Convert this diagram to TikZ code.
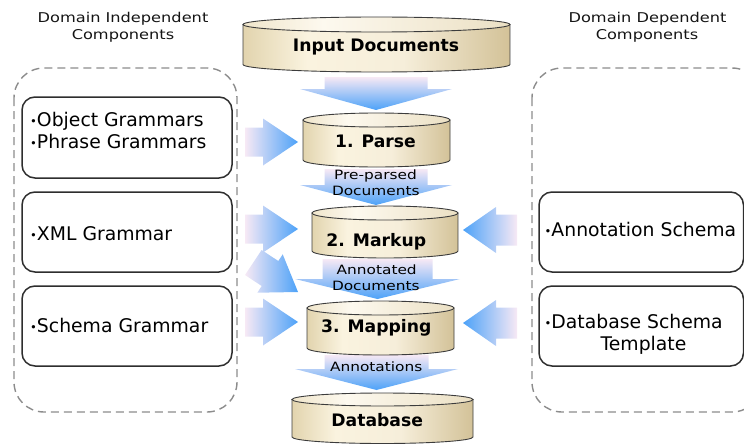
\documentclass[tikz,border=0pt]{standalone}
\usepackage{fontspec}
\setmainfont{DejaVu Sans}
\newfontfamily\lblfont[FakeStretch=1.2]{DejaVu Sans}
\usetikzlibrary{calc}

\definecolor{cylL}{HTML}{E2D4AE}
\definecolor{cylM}{HTML}{FAF3DF}
\definecolor{cylN}{HTML}{F6EEDA}
\definecolor{cylR}{HTML}{D3C298}
\definecolor{topL}{HTML}{F0E6CC}
\definecolor{topM}{HTML}{FDF9EF}
\definecolor{topR}{HTML}{EBE0C4}
\definecolor{cylline}{HTML}{3C3C3C}
\definecolor{arrB}{HTML}{4DA2F8}
\definecolor{arrP}{HTML}{F7E9F5}
\definecolor{dashg}{HTML}{8C8C8C}
\definecolor{boxline}{HTML}{2E2E2E}
\definecolor{titleg}{HTML}{141414}

\pgfdeclarehorizontalshading{cylshade}{100bp}{color(0bp)=(cylL); color(25bp)=(cylL); color(37bp)=(cylM); color(55bp)=(cylN); color(75bp)=(cylR); color(100bp)=(cylR)}
\pgfdeclarehorizontalshading{topshade}{100bp}{color(0bp)=(topL); color(25bp)=(topL); color(40bp)=(topM); color(75bp)=(topR); color(100bp)=(topR)}

\newcommand\bul{{\fontsize{11.5}{11}\selectfont\raisebox{0.6pt}{•}}}

% cylinder: L R T B ry name
\newcommand\cyl[6]{%
  \pgfmathsetmacro\cyX{(#1+#2)/2}%
  \pgfmathsetmacro\cyR{(#2-#1)/2}%
  \pgfmathsetmacro\cyT{#3+#5}%
  \pgfmathsetmacro\cyB{#4-#5}%
  \path[cylbody] (#1,\cyT) -- (#1,\cyB) arc[start angle=180,end angle=360,x radius=\cyR*1pt,y radius=#5*1pt] -- (#2,\cyT) -- cycle;
  \path[cyltop] (\cyX,\cyT) ellipse[x radius=\cyR*1pt, y radius=#5*1pt];
  \node[inner sep=0pt, minimum width={(#2-#1)*1pt}, minimum height={(#4-#3)*1pt}] (#6) at (\cyX,{(#3+#4)/2}) {};
}
% vertical block arrow: cx top headstart tip shafthalf headhalf
\newcommand\varrow[6]{\path[varr] ({#1-#5},#2) -- ({#1+#5},#2) -- ({#1+#5},#3) -- ({#1+#6},#3) -- (#1,#4) -- ({#1-#6},#3) -- ({#1-#5},#3) -- cycle;}
% right pointing arrow at y
\newcommand\rarrow[1]{\path[rarr] (245,{#1-14.5}) -- (263,{#1-14.5}) -- (263,{#1-23.5}) -- (298,#1) -- (263,{#1+23.5}) -- (263,{#1+14.5}) -- (245,{#1+14.5}) -- cycle;}
% left pointing arrow at y
\newcommand\larrow[1]{\path[larr] (517,{#1-15.5}) -- (496,{#1-15.5}) -- (496,{#1-23}) -- (463,#1) -- (496,{#1+23}) -- (496,{#1+15.5}) -- (517,{#1+15.5}) -- cycle;}

\begin{document}
\begin{tikzpicture}[x=1pt,y=-1pt,
  dashbox/.style={draw=dashg, line width=1.4pt, dash pattern=on 8pt off 5pt, rounded corners=30pt},
  gbox/.style={draw=boxline, line width=1.5pt, rounded corners=13pt, inner sep=0pt, fill=white},
  boxtext/.style={anchor=base west, inner sep=0pt, font=\fontsize{18.8}{22}\selectfont, text=black},
  title/.style={anchor=base, inner sep=0pt, font=\lblfont\fontsize{13.5}{16}\selectfont, text=titleg},
  lbl/.style={anchor=base, inner sep=0pt, font=\lblfont\fontsize{12.8}{15}\selectfont, text=black},
  cyltxt/.style={anchor=base, inner sep=0pt, font=\bfseries\fontsize{17.2}{20}\selectfont, text=black},
  varr/.style={top color=arrP, bottom color=arrB},
  rarr/.style={left color=arrP, right color=arrB},
  larr/.style={left color=arrB, right color=arrP},
  cylbody/.style={draw=cylline, line width=0.9pt, shade, shading=cylshade},
  cyltop/.style={draw=cylline, line width=0.9pt, shade, shading=topshade},
]
\useasboundingbox (0,0) rectangle (744,444);
\clip (0,0) rectangle (744,444);

% titles
\node[title] (tl1) at (123,22.3) {Domain Independent};
\node[title] (tl2) at (123,39.3) {Components};
\node[title] (tr1) at (647.5,22.3) {Domain Dependent};
\node[title] (tr2) at (647,39.3) {Components};

% dashed groups
\draw[dashbox] (14,68) rectangle (237,412);
\draw[dashbox] (532,68) rectangle (762,412);

% component boxes
\node[gbox, minimum width=210pt, minimum height=81pt] (og) at (127,137.5) {};
\node[gbox, minimum width=210pt, minimum height=80pt] (xg) at (127,232) {};
\node[gbox, minimum width=210pt, minimum height=80pt] (sg) at (127,326) {};
\node[gbox, minimum width=204.5pt, minimum height=80pt] (as) at (641.25,232) {};
\node[gbox, minimum width=204.5pt, minimum height=80pt] (ds) at (641.25,326) {};

\node[boxtext] (t1a) at (30,126) {\bul Object Grammars};
\node[boxtext] (t1b) at (30,148) {\bul Phrase Grammars};
\node[boxtext] (t2) at (30,240) {\bul XML Grammar};
\node[boxtext] (t3) at (30,332) {\bul Schema Grammar};
\node[boxtext] (t4) at (544.5,236) {\bul Annotation Schema};
\node[boxtext] (t5) at (544.5,328.5) {\bul Database Schema};
\node[boxtext, anchor=base] (t6) at (643.5,350.5) {Template};

% diagonal arrow
\path[rarr] (261.6,250.0) -- (278.3,261.0) -- (282.7,254.3) -- (298,292) -- (257.3,292.7) -- (261.7,286.0) -- (245.0,275.0) -- cycle;

% horizontal arrows
\rarrow{142}
\rarrow{229}
\rarrow{322}
\larrow{230}
\larrow{323}

% vertical arrows
\varrow{376}{77}{89}{110}{51.5}{76}
\varrow{376}{169}{185}{205}{51.5}{76}
\varrow{377.5}{259}{279}{299}{55}{82.5}
\varrow{376.5}{355}{369}{390}{52}{81.5}

% cylinders
\cyl{243}{510}{17}{72}{7.5}{input}
\cyl{303}{450}{113}{167}{7}{parse}
\cyl{312}{458}{206}{258}{7}{markup}
\cyl{307}{454}{301}{355}{7}{mapping}
\cyl{292}{473}{393}{443.5}{6.5}{db}

\node[cyltxt] (ti) at (376,51.7) {Input Documents};
\node[cyltxt] (tp) at (375.5,147.7) {1. Parse};
\node[cyltxt] (tm) at (376.3,246.7) {2. Markup};
\node[cyltxt] (tmp) at (376.2,332.7) {3. Mapping};
\node[cyltxt] (tdb) at (377.2,426.7) {Database};

% arrow labels
\node[lbl] (l1) at (375.5,179.3) {Pre-parsed};
\node[lbl] (l2) at (375.8,195) {Documents};
\node[lbl] (l3) at (376.7,274) {Annotated};
\node[lbl] (l4) at (375.8,290.7) {Documents};
\node[lbl] (l5) at (376.2,371) {Annotations};
\end{tikzpicture}
\end{document}
